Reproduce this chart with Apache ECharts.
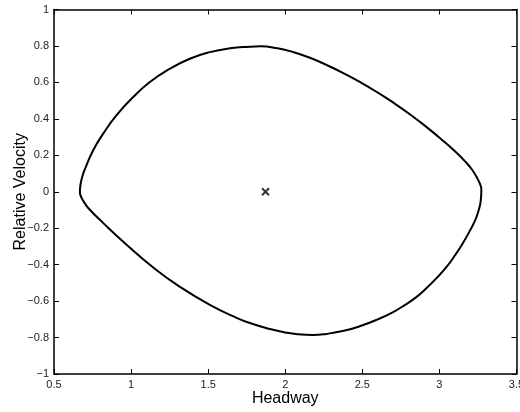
<!DOCTYPE html>
<html>
<head>
<meta charset="utf-8">
<script src="https://cdn.jsdelivr.net/npm/echarts@6/dist/echarts.min.js"></script>
<style>
  html, body { margin: 0; padding: 0; background: #fff; }
  #chart { width: 520px; height: 412px; }
</style>
</head>
<body>
<div id="chart"></div>
<script>
// Limit cycle in the headway / relative-velocity phase plane (traced clockwise).
const headway = [
  0.668, 0.672, 0.686, 0.701, 0.755, 0.820, 0.906, 1.014, 1.122, 1.252,
  1.381, 1.511, 1.641, 1.770, 1.840, 1.950, 2.050, 2.160, 2.267, 2.380,
  2.483, 2.600, 2.699, 2.810, 2.915, 3.010, 3.099, 3.165, 3.217, 3.255,
  3.272, 3.268, 3.255, 3.235, 3.200, 3.150, 3.100, 3.045, 2.980, 2.915,
  2.850, 2.775, 2.700, 2.600, 2.483, 2.380, 2.267, 2.180, 2.080, 2.000,
  1.900, 1.790, 1.684, 1.511, 1.317, 1.144, 0.971, 0.820, 0.722, 0.690,
  0.672, 0.668
];
const relVelocity = [
  0.000, 0.040, 0.090, 0.125, 0.229, 0.320, 0.420, 0.520, 0.602, 0.675,
  0.730, 0.766, 0.787, 0.796, 0.798, 0.787, 0.767, 0.735, 0.696, 0.650,
  0.603, 0.544, 0.490, 0.424, 0.356, 0.290, 0.224, 0.168, 0.115, 0.058,
  0.010, -0.050, -0.100, -0.150, -0.210, -0.285, -0.350, -0.414, -0.475, -0.530,
  -0.578, -0.622, -0.660, -0.700, -0.738, -0.763, -0.780, -0.786, -0.782, -0.772,
  -0.753, -0.726, -0.692, -0.621, -0.522, -0.416, -0.291, -0.172, -0.089, -0.050,
  -0.020, 0.000
];
// Equilibrium point
const equilibriumHeadway = [1.872];
const equilibriumVelocity = [0];

const xTicks = { min: 0.5, max: 3.5, step: 0.5 };
const yTicks = { min: -1, max: 1, step: 0.2 };

const cyclePoints = headway.map((h, i) => [h, relVelocity[i]]);
const eqPoints = equilibriumHeadway.map((h, i) => [h, equilibriumVelocity[i]]);

const FONT = '"Liberation Sans", Arial, Helvetica, sans-serif';
const fmt = v => String(Math.round(v * 10) / 10).replace('-', '\u2212');

const frameLine = { show: true, onZero: false, lineStyle: { color: '#000', width: 1.5 } };
const tickIn = { show: true, inside: true, length: 5, lineStyle: { color: '#000', width: 1 } };

const chart = echarts.init(document.getElementById('chart'), null, { renderer: 'canvas' });
chart.setOption({
  animation: false,
  backgroundColor: '#fff',
  grid: { left: 54, right: 3.5, top: 9.5, bottom: 38, outerBoundsMode: 'none', containLabel: false },
  xAxis: [
    {
      type: 'value', position: 'bottom',
      min: xTicks.min, max: xTicks.max, interval: xTicks.step,
      name: 'Headway', nameLocation: 'middle', nameGap: 17, nameMoveOverlap: false,
      nameTextStyle: { fontFamily: FONT, fontSize: 16, color: '#000' },
      axisLine: frameLine, axisTick: tickIn, splitLine: { show: false },
      axisLabel: { margin: 5, fontFamily: FONT, fontSize: 11, color: '#222', formatter: fmt }
    },
    {
      type: 'value', position: 'top',
      min: xTicks.min, max: xTicks.max, interval: xTicks.step,
      axisLine: frameLine, axisTick: tickIn, splitLine: { show: false },
      axisLabel: { show: false }
    }
  ],
  yAxis: [
    {
      type: 'value', position: 'left',
      min: yTicks.min, max: yTicks.max, interval: yTicks.step,
      name: 'Relative Velocity', nameLocation: 'middle', nameGap: 25, nameMoveOverlap: false,
      nameTextStyle: { fontFamily: FONT, fontSize: 16, color: '#000' },
      axisLine: frameLine, axisTick: tickIn, splitLine: { show: false },
      axisLabel: { margin: 5, fontFamily: FONT, fontSize: 11, color: '#222', formatter: fmt }
    },
    {
      type: 'value', position: 'right',
      min: yTicks.min, max: yTicks.max, interval: yTicks.step,
      axisLine: frameLine, axisTick: tickIn, splitLine: { show: false },
      axisLabel: { show: false }
    }
  ],
  series: [
    {
      type: 'line',
      xAxisIndex: 0, yAxisIndex: 0,
      data: cyclePoints,
      smooth: 0.5,
      showSymbol: false,
      lineStyle: { color: '#000', width: 2 }
    },
    {
      type: 'scatter',
      xAxisIndex: 0, yAxisIndex: 0,
      data: eqPoints,
      symbol: 'path://M0,0L10,10M10,0L0,10',
      symbolSize: 7,
      itemStyle: { color: 'none', borderColor: '#000', borderWidth: 2 }
    }
  ]
});
</script>
</body>
</html>
